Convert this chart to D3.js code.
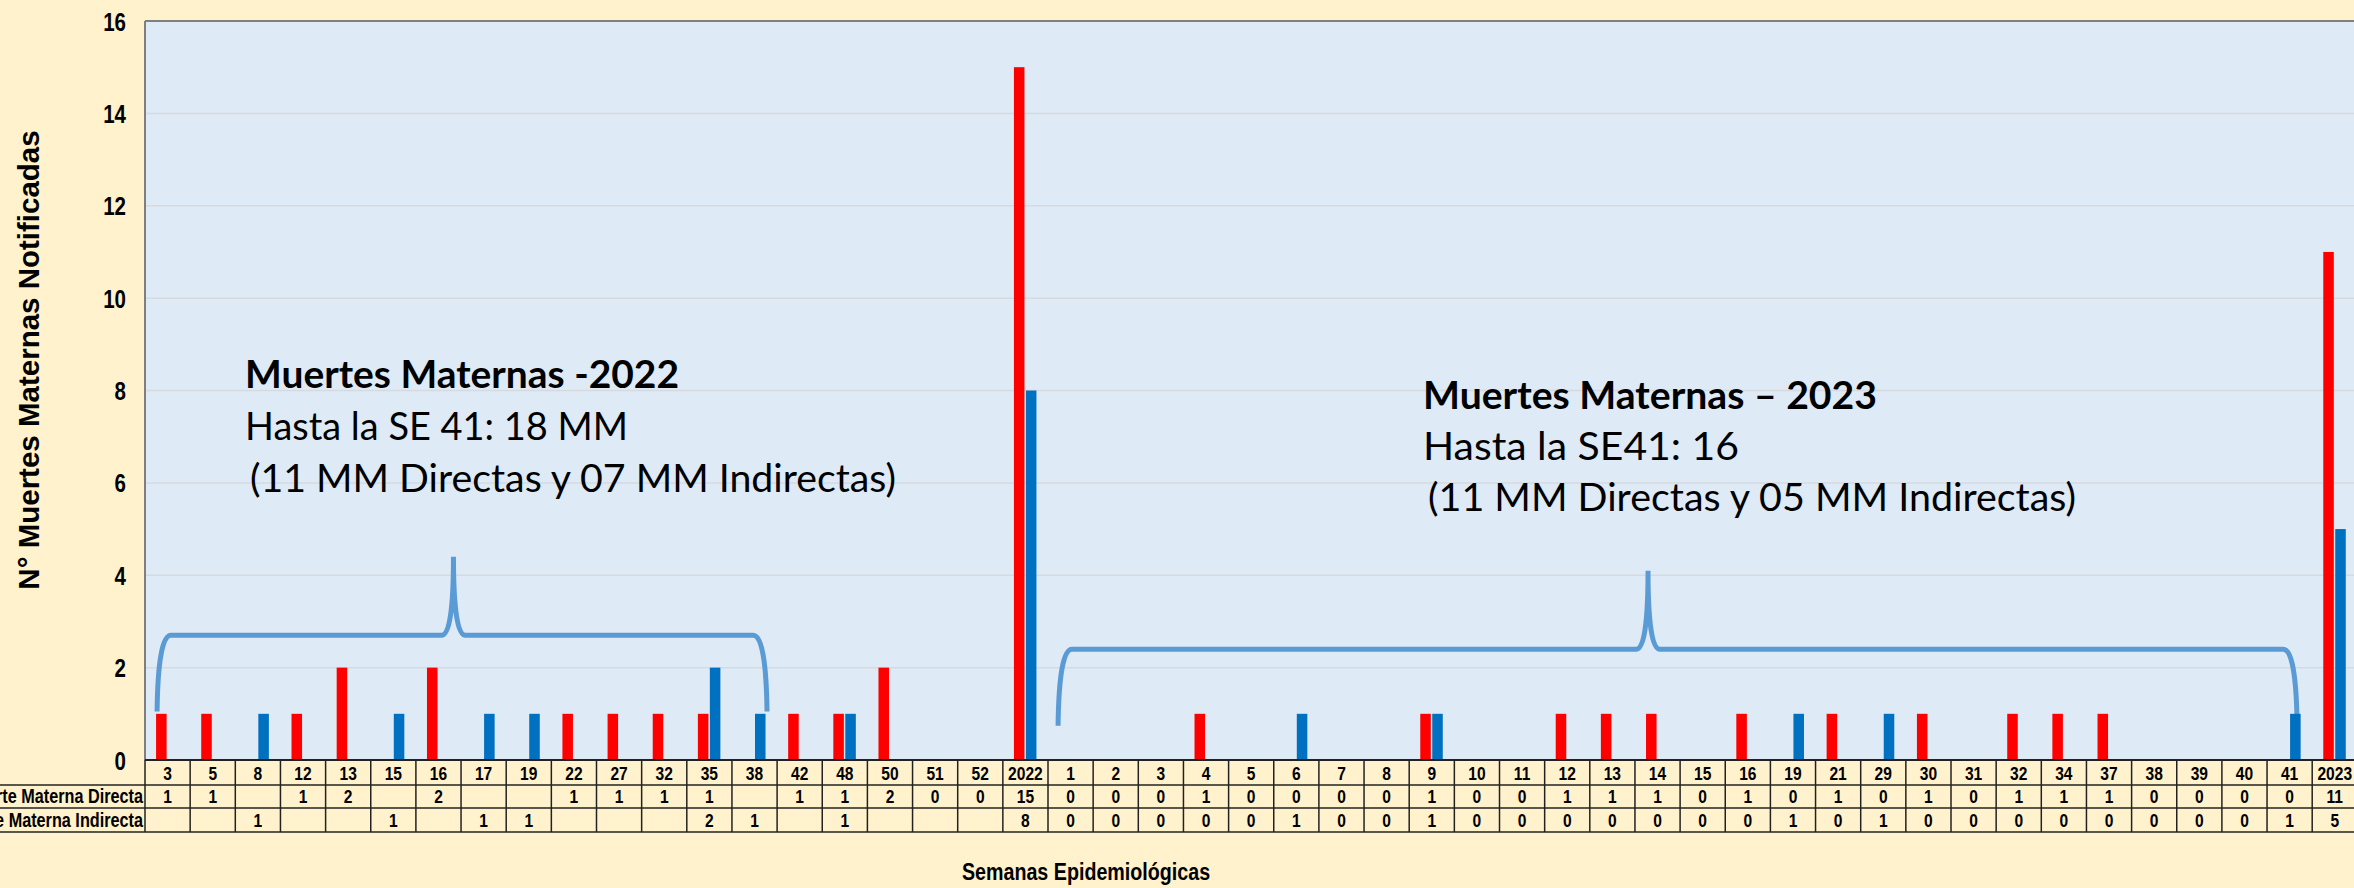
<!DOCTYPE html>
<html>
<head>
<meta charset="utf-8">
<script src="https://cdn.jsdelivr.net/npm/d3@7/dist/d3.min.js"></script>
<style>
  html, body { margin: 0; padding: 0; background: #FFF2CC; overflow: hidden; }
  svg { display: block; }
</style>
</head>
<body>
<svg id="chart" width="2354" height="888"></svg>
<script>
// ---------------- DATA ----------------
const weeks2022 = ["3","5","8","12","13","15","16","17","19","22","27","32","35","38","42","48","50","51","52"];
const weeks2023 = ["1","2","3","4","5","6","7","8","9","10","11","12","13","14","15","16","19","21","29","30","31","32","34","37","38","39","40","41"];
const categories = [...weeks2022, "2022", ...weeks2023, "2023"];

// Muerte Materna Directa (null = blank cell)
const directa = [1,1,null,1,2,null,2,null,null,1,1,1,1,null,1,1,2,0,0,
                 15,
                 0,0,0,1,0,0,0,0,1,0,0,1,1,1,0,1,0,1,0,1,0,1,1,1,0,0,0,0,
                 11];
// Muerte Materna Indirecta (null = blank cell)
const indirecta = [null,null,1,null,null,1,null,1,1,null,null,null,2,1,null,1,null,null,null,
                   8,
                   0,0,0,0,0,1,0,0,1,0,0,0,0,0,0,0,1,0,1,0,0,0,0,0,0,0,0,1,
                   5];

const seriesNames = ["Muerte Materna Directa", "Muerte Materna Indirecta"];
const yTicks = [0,2,4,6,8,10,12,14,16];
const yTitle = "N° Muertes Maternas Notificadas";
const xTitle = "Semanas Epidemiológicas";
const note2022 = ["Muertes Maternas -2022", "Hasta la SE 41: 18 MM", "(11 MM Directas y 07 MM Indirectas)"];
const note2023 = ["Muertes Maternas – 2023", "Hasta la SE41: 16", "(11 MM Directas y 05 MM Indirectas)"];

// ---------------- LAYOUT ----------------
const W = 2354, H = 888;
const plotL = 145, plotT = 21, plotB = 760;
const colW = 45.15;
const plotR = plotL + categories.length * colW;
const rowH = [760, 785, 808, 832];
const SQ = 0.82; // narrow font emulation
const RED = "#FF0000", BLUE = "#0070C0", BRACE = "#5B9BD5";
const ARIAL = "'Liberation Sans', Arial, sans-serif";
const CALIBRI = "Lato, 'Open Sans', sans-serif";

const svg = d3.select("#chart");
svg.append("rect").attr("width", W).attr("height", H).attr("fill", "#FFF2CC");

const x = d3.scaleBand().domain(d3.range(categories.length)).range([plotL, plotR]).padding(0);
const bw = x.bandwidth();
const xSub = d3.scaleBand().domain([0,1]).range([bw/2 - 11.5, bw/2 + 11]).paddingInner(0.12);
const y = d3.scaleLinear().domain([0,16]).range([plotB, plotT]);

// plot background
svg.append("rect").attr("x", plotL).attr("y", plotT).attr("width", plotR - plotL).attr("height", plotB - plotT)
  .attr("fill", "#DEEAF6");

// gridlines
svg.append("g").selectAll("line").data(yTicks.filter(t => t > 0 && t < 16)).join("line")
  .attr("x1", plotL).attr("x2", plotR).attr("y1", d => y(d)).attr("y2", d => y(d))
  .attr("stroke", "#D6DADF").attr("stroke-width", 1.5);

// plot border top/left
svg.append("line").attr("x1", plotL).attr("x2", plotR).attr("y1", plotT).attr("y2", plotT)
  .attr("stroke", "#7F7F7F").attr("stroke-width", 2);
svg.append("line").attr("x1", plotL).attr("x2", plotL).attr("y1", plotT).attr("y2", plotB)
  .attr("stroke", "#7F7F7F").attr("stroke-width", 2);

// y axis labels
const yAxis = d3.axisLeft(y).tickValues(yTicks).tickSize(0).tickPadding(0).tickFormat(d3.format("d"));
const gy = svg.append("g").attr("transform", `translate(${plotL},0)`).call(yAxis);
gy.select(".domain").remove();
gy.selectAll("text")
  .attr("x", 0).attr("dy", null)
  .attr("transform", `translate(-19,9) scale(${SQ},1)`)
  .attr("font-family", ARIAL).attr("font-weight", "bold").attr("font-size", 25).attr("fill", "#000")
  .attr("text-anchor", "end");

// braces (annotation)
function bracePath(xl, xr, xp, yb, yh, yp) {
  return `M${xl},${yb} Q${xl+1},${yh} ${xl+14},${yh} L${xp-12},${yh} Q${xp},${yh} ${xp},${yp} ` +
         `Q${xp},${yh} ${xp+12},${yh} L${xr-14},${yh} Q${xr-1},${yh} ${xr},${yb}`;
}
const c = i => x(i) + bw/2;
const braces = [
  {xl: c(0) - 10.5, xr: c(13) + 12.5, xp: c(6) + 15, vb: 1.05, vh: 2.7, vp: 4.4},
  {xl: c(20) - 12.5, xr: c(47) + 7.5, xp: c(33) - 9.5, vb: 0.74, vh: 2.4, vp: 4.1}
];
svg.append("g").selectAll("path").data(braces).join("path")
  .attr("d", b => bracePath(b.xl, b.xr, b.xp, y(b.vb), y(b.vh), y(b.vp)))
  .attr("fill", "none").attr("stroke", BRACE).attr("stroke-width", 5);

// bars
const barData = [];
categories.forEach((cat, i) => {
  [directa[i], indirecta[i]].forEach((v, s) => {
    if (v) barData.push({i, s, v});
  });
});
svg.append("g").selectAll("rect").data(barData).join("rect")
  .attr("x", d => x(d.i) + xSub(d.s))
  .attr("width", xSub.bandwidth())
  .attr("y", d => y(d.v))
  .attr("height", d => y(0) - y(d.v))
  .attr("fill", d => d.s === 0 ? RED : BLUE);

// table
const tg = svg.append("g");
tg.append("line").attr("x1", plotL).attr("x2", plotR).attr("y1", rowH[0]).attr("y2", rowH[0])
  .attr("stroke", "#222").attr("stroke-width", 2);
[rowH[1], rowH[2], rowH[3]].forEach(yy => {
  tg.append("line").attr("x1", 0).attr("x2", plotR).attr("y1", yy).attr("y2", yy)
    .attr("stroke", "#222").attr("stroke-width", 1.5);
});
tg.selectAll("line.v").data(d3.range(categories.length + 1)).join("line").attr("class", "v")
  .attr("x1", i => plotL + i * bw).attr("x2", i => plotL + i * bw)
  .attr("y1", rowH[0]).attr("y2", rowH[3])
  .attr("stroke", "#222").attr("stroke-width", 1.5);

function sqText(g, txt, tx, ty, size, anchor) {
  return g.append("text").text(txt)
    .attr("transform", `translate(${tx},${ty}) scale(${SQ},1)`)
    .attr("font-family", ARIAL).attr("font-weight", "bold").attr("font-size", size)
    .attr("text-anchor", anchor).attr("fill", "#000");
}
const fmt = v => (v === null || v === undefined) ? "" : String(v);
categories.forEach((cat, i) => {
  sqText(tg, cat, c(i), 779.5, 19, "middle");
  sqText(tg, fmt(directa[i]), c(i), 803, 19, "middle");
  sqText(tg, fmt(indirecta[i]), c(i), 826.5, 19, "middle");
});
sqText(tg, seriesNames[0], 143, 803, 19.8, "end");
sqText(tg, seriesNames[1], 143, 826.5, 19.8, "end");

// axis titles
svg.append("text").text(yTitle)
  .attr("transform", "translate(38.5,360) rotate(-90)")
  .attr("font-family", ARIAL).attr("font-weight", "bold").attr("font-size", 29.5)
  .attr("text-anchor", "middle").attr("fill", "#000");
sqText(svg, xTitle, 1086, 880, 24, "middle");

// annotation texts
function note(lines, x0, bases, lens) {
  lines.forEach((t, k) => {
    svg.append("text").text(t)
      .attr("x", x0[k]).attr("y", bases[k])
      .attr("font-family", CALIBRI).attr("font-weight", k === 0 ? "bold" : "normal")
      .attr("font-size", 38).attr("fill", "#000")
      .attr("textLength", lens[k]).attr("lengthAdjust", "spacingAndGlyphs");
  });
}
note(note2022, [245, 245, 250], [388, 440, 492], [434, 383, 646]);
note(note2023, [1423, 1423, 1428], [409, 460, 511], [454, 316, 648]);
</script>
</body>
</html>
